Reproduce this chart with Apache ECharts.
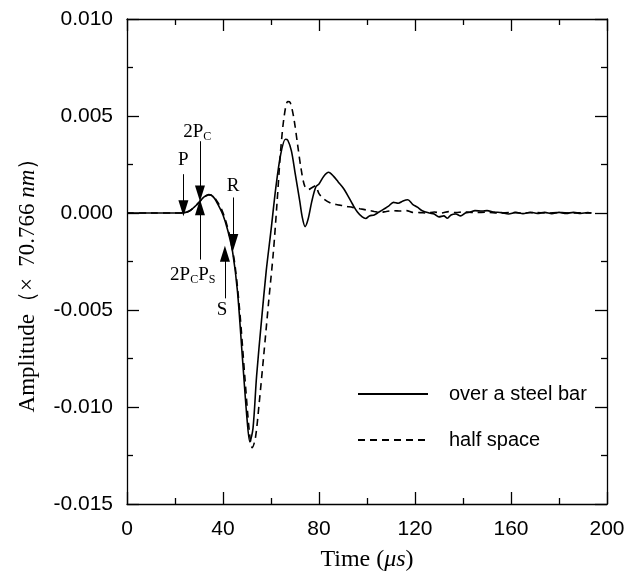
<!DOCTYPE html>
<html><head><meta charset="utf-8">
<script src="https://cdn.jsdelivr.net/npm/echarts@6/dist/echarts.min.js"></script>
<style>html,body{margin:0;padding:0;background:#fff}#c{width:635px;height:577px}</style>
</head><body><div id="c"></div>
<script>
// ---- data (time in µs, amplitude) ----
const timeSteel = [0,10,20,22,24,26,28,30,32,34,35,36.5,38,40,42,44,46,48,50,51.2,52.5,54,56,58,60,62,64,66,67,68.5,70,72,73,74.2,75.5,77,78.7,80,82,84,86,88,90,92,94,96,98,99.5,101,103,105,107,109,111,113,115,117,119,121,123,126,128,130,132,133.5,135,137,139,141,143,145,148,150,153,156,159,162,165,168,171,174,177,180,183,186,189,192,193.5];
const ampSteel = [0,0,0,0,0.00002,0.0001,0.0003,0.00055,0.00082,0.00095,0.00093,0.00075,0.00042,-0.0001,-0.0009,-0.002,-0.004,-0.0073,-0.0106,-0.0118,-0.0111,-0.0084,-0.0056,-0.003,-0.0009,0.0013,0.003,0.0038,0.00375,0.0032,0.0021,0.0006,-0.0002,-0.0007,-0.0003,0.0006,0.00135,0.0015,0.0019,0.0021,0.0019,0.0016,0.0013,0.0009,0.00045,0.00005,-0.0002,-0.00028,-0.00015,-0.0001,0.00005,0.0002,0.00035,0.00055,0.0005,0.00062,0.00068,0.00045,0.0003,0.00012,0,-0.00005,-0.0002,-0.00015,-0.00027,-0.0001,-0.00005,-0.00015,0,0.00005,0.00012,0.0001,0.00012,0.00005,0.00002,-0.00005,0.00003,-0.00003,0.00004,-0.00002,0.00003,-0.00003,0.00003,-0.00002,0.00003,-0.00002,0.00002,0];
const timeHalf = [0,10,20,22,24,26,28,30,32,34,35.5,37,39,41,43,45,47,49,51,52.2,53.5,55,57,59,61,62.5,64,65.5,67,68,69.5,71,72.5,74,75.5,77,78.5,80,82,85,88,91,94,97,100,103,105.5,108,111,114,116.5,119,122,125,128,131,134,137,140,145,150,155,160,165,170,175,180,185,190,193.5];
const ampHalf = [0,0,0,0,0.00002,0.0001,0.0003,0.00055,0.0008,0.00093,0.0009,0.0007,0.0003,-0.00035,-0.0013,-0.0027,-0.0051,-0.0083,-0.0113,-0.0121,-0.0116,-0.0099,-0.0073,-0.0046,-0.002,0.0005,0.0032,0.005,0.00575,0.0057,0.0049,0.0036,0.0023,0.0014,0.0012,0.0013,0.0014,0.001,0.00072,0.0005,0.00042,0.00035,0.00029,0.00022,0.00015,0.00008,0.00003,0.00008,0.00012,0.0001,0.00012,0.00003,0.00002,0,0.00005,0,0.00007,0.00002,0.00005,0.00002,0.00004,0,0.00003,0,0.00002,0,0.00002,0,0.00001,0];
const seriesNames = ['over a steel bar', 'half space'];
const xTicks = {min: 0, max: 200, step: 40};
const yTicks = {min: -0.015, max: 0.010, step: 0.005};
// annotation arrows: [time, from amplitude, to amplitude (tip)]
const arrows = [[23.5, 0.0020, 0.00025], [30.4, 0.0037, 0.0010], [30.4, -0.0024, 0.0003], [44.3, 0.0008, -0.0015], [40.8, -0.0044, -0.0021]];
// annotation labels: [time, amplitude, text]
const labels = [[23.5, 0.00275, '{n|P}'], [29.3, 0.00415, '{n|2P}{s|C}'], [27.4, -0.0032, '{n|2P}{s|C}{n|P}{s|S}'], [44.2, 0.0014, '{n|R}'], [39.6, -0.0050, '{n|S}']];

const pair = (t, a) => t.map((v, i) => [v, a[i]]);
const serif = '"Liberation Serif", "Times New Roman", serif';
const sans = '"Liberation Sans", Arial, sans-serif';

function xAx(pos, showLabel) {
  return {type: 'value', position: pos, min: xTicks.min, max: xTicks.max, interval: xTicks.step,
    axisLine: {show: true, onZero: false, lineStyle: {color: '#000', width: 1.3}},
    axisTick: {show: true, inside: true, length: 12, lineStyle: {color: '#000', width: 1.3}},
    minorTick: {show: true, splitNumber: 2, length: 6, lineStyle: {color: '#000', width: 1.3}},
    splitLine: {show: false},
    axisLabel: {show: showLabel, color: '#000', fontFamily: sans, fontSize: 21, margin: 15},
    name: showLabel ? 'Time ({i|μs})' : '', nameLocation: 'middle', nameGap: 44,
    nameTextStyle: {color: '#000', fontFamily: serif, fontSize: 24, rich: {i: {fontFamily: serif, fontSize: 24, fontStyle: 'italic', color: '#000'}}}
  };
}
function yAx(pos, showLabel) {
  return {type: 'value', position: pos, min: yTicks.min, max: yTicks.max, interval: yTicks.step,
    axisLine: {show: true, onZero: false, lineStyle: {color: '#000', width: 1.3}},
    axisTick: {show: true, inside: true, length: 12, lineStyle: {color: '#000', width: 1.3}},
    minorTick: {show: true, splitNumber: 2, length: 6, lineStyle: {color: '#000', width: 1.3}},
    splitLine: {show: false},
    axisLabel: {show: showLabel, color: '#000', fontFamily: sans, fontSize: 21, margin: 14, formatter: v => v.toFixed(3)},
    name: showLabel ? 'Amplitude（×  70.766 {i|nm}）' : '', nameLocation: 'middle', nameGap: 88,
    nameTextStyle: {color: '#000', fontFamily: serif, fontSize: 23, padding: [0, 36, 0, 0], rich: {i: {fontFamily: serif, fontSize: 23, fontStyle: 'italic', color: '#000'}}}
  };
}

const chart = echarts.init(document.getElementById('c'), null, {renderer: 'canvas'});
chart.setOption({
  animation: false,
  backgroundColor: '#fff',
  grid: {left: 127, right: 28, top: 19, bottom: 70},
  xAxis: [xAx('bottom', true), xAx('top', false)],
  yAxis: [yAx('left', true), yAx('right', false)],
  legend: {orient: 'vertical', left: 357, top: 384, padding: 0, itemWidth: 70, itemHeight: 14, itemGap: 26,
    itemStyle: {color: 'transparent', borderColor: 'transparent', borderWidth: 0, opacity: 0},
    textStyle: {fontFamily: sans, fontSize: 20, color: '#000', padding: [0, 0, 0, 16]},
    data: seriesNames},
  series: [
    {name: seriesNames[0], type: 'line', data: pair(timeSteel, ampSteel), showSymbol: false, symbol: 'none', smooth: 0.3,
      lineStyle: {color: '#000', width: 1.6, type: 'solid'}, itemStyle: {color: '#000'}, z: 3,
      markLine: {silent: true, symbol: ['none', 'triangle'], symbolSize: [10, 16], label: {show: false},
        lineStyle: {color: '#000', width: 1, type: 'solid'},
        data: arrows.map(a => [{coord: [a[0], a[1]]}, {coord: [a[0], a[2]]}])},
      markPoint: {silent: true, symbol: 'circle', symbolSize: 0,
        label: {show: true, position: 'inside', color: '#000', formatter: p => p.data.txt,
          rich: {n: {fontFamily: serif, fontSize: 19, color: '#000'}, s: {fontFamily: serif, fontSize: 12, color: '#000', padding: [9, 0, 0, 0]}}},
        data: labels.map(l => ({coord: [l[0], l[1]], txt: l[2]}))}
    },
    {name: seriesNames[1], type: 'line', data: pair(timeHalf, ampHalf), showSymbol: false, symbol: 'none', smooth: 0.3,
      lineStyle: {color: '#000', width: 1.6, type: [7, 5]}, itemStyle: {color: '#000'}, z: 2}
  ]
});
</script></body></html>
